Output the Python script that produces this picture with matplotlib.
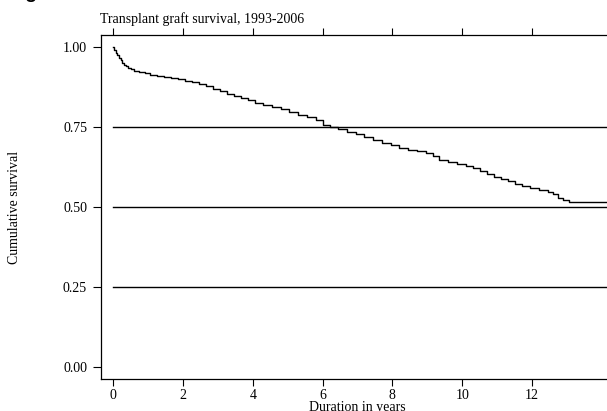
import matplotlib
matplotlib.use("Agg")
import matplotlib.pyplot as plt

# Kaplan-Meier estimate of graft survival: step times (years) and survival after each step
step_times = [0.0, 0.03, 0.07, 0.11, 0.16, 0.21, 0.26, 0.31, 0.36, 0.42, 0.5, 0.6,
              0.75, 0.9, 1.05, 1.25, 1.45, 1.65, 1.85, 2.05, 2.25, 2.45, 2.65, 2.85,
              3.05, 3.25, 3.45, 3.65, 3.85, 4.05, 4.3, 4.55, 4.8, 5.05, 5.3, 5.55,
              5.8, 6.0, 6.2, 6.45, 6.7, 6.95, 7.2, 7.45, 7.7, 7.95, 8.2, 8.45,
              8.7, 8.95, 9.15, 9.35, 9.6, 9.85, 10.1, 10.3, 10.5, 10.7, 10.9,
              11.1, 11.3, 11.5, 11.7, 11.95, 12.2, 12.45, 12.6, 12.75, 12.9, 13.05]
survival = [1.0, 0.99, 0.982, 0.975, 0.967, 0.959, 0.951, 0.945, 0.94, 0.935, 0.93, 0.926,
            0.922, 0.918, 0.914, 0.911, 0.907, 0.903, 0.9, 0.895, 0.89, 0.884, 0.877, 0.87,
            0.862, 0.853, 0.846, 0.84, 0.834, 0.826, 0.818, 0.812, 0.806, 0.798, 0.789, 0.781,
            0.771, 0.758, 0.75, 0.743, 0.736, 0.728, 0.719, 0.711, 0.702, 0.694, 0.686, 0.68,
            0.675, 0.668, 0.66, 0.648, 0.64, 0.635, 0.629, 0.622, 0.613, 0.604, 0.595,
            0.589, 0.582, 0.573, 0.566, 0.561, 0.554, 0.547, 0.54, 0.53, 0.523, 0.515]
follow_up_end = 14.3

ref_levels = [0.25, 0.5, 0.75]
x_ticks = [0, 2, 4, 6, 8, 10, 12]
y_ticks = [0.0, 0.25, 0.5, 0.75, 1.0]
y_tick_labels = ["0.00", "0.25", "0.50", "0.75", "1.00"]

plt.rcParams["font.family"] = ["Liberation Serif", "DejaVu Serif"]
plt.rcParams["font.size"] = 10

fig = plt.figure(figsize=(6.07, 4.11), dpi=100)
ax = fig.add_axes([101 / 607, 1 - 379 / 411, 1 - 101 / 607, (379 - 35) / 411])

for lvl in ref_levels:
    ax.plot([0, follow_up_end], [lvl, lvl], color="black", lw=1.0)

ax.step(step_times + [follow_up_end], survival + [survival[-1]], where="post",
        color="black", lw=1.0)

ax.set_xlim(-0.35, 14.15)
ax.set_ylim(-0.036, 1.0375)
ax.set_xticks(x_ticks)
ax.set_yticks(y_ticks)
ax.set_yticklabels(y_tick_labels)
ax.tick_params(axis="x", top=True, labeltop=False, direction="out", length=5,
               width=0.8, pad=2.0, labelsize=10)
ax.tick_params(axis="y", direction="out", length=5.5, width=0.8, pad=4.5, labelsize=10)
ax.spines["right"].set_visible(False)
for side in ("left", "bottom", "top"):
    ax.spines[side].set_linewidth(0.9)

fig.text(100 / 607, 1 - 23 / 411, "Transplant graft survival, 1993-2006",
         ha="left", va="baseline", fontsize=10)
fig.text(15 / 607, 1 - 207 / 411, "Cumulative survival", rotation=90,
         ha="center", va="center", fontsize=10)
fig.text(357 / 607, 0.0005, "Duration in years",
         ha="center", va="baseline", fontsize=10)
fig.text(8 / 607, 1 + 1.5 / 411, "Figure 1", ha="left", va="baseline",
         fontsize=14, fontweight="bold", family=["Liberation Sans", "DejaVu Sans"])

fig.savefig("out.png", dpi=100)
